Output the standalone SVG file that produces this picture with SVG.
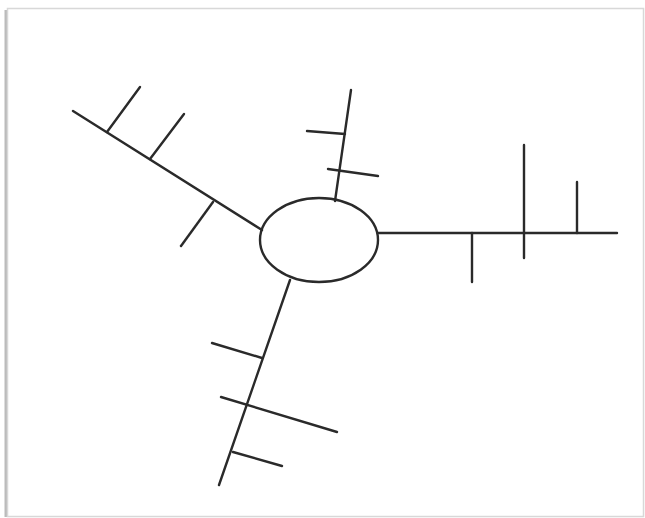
<svg xmlns="http://www.w3.org/2000/svg" width="645" height="518" viewBox="0 0 645 518">
<style>
.ln{stroke:#2a2a2a;stroke-width:2.4;fill:none;stroke-linecap:round}
.frame{fill:#fff;stroke:#d8d8d8;stroke-width:1.5}
</style>
<rect width="645" height="518" fill="#fff"/>
<line x1="6" y1="10" x2="6" y2="517" stroke="#bbb" stroke-width="3"/>
<rect class="frame" x="7.5" y="8.5" width="636" height="508"/>
<g id="connectors">
<g id="branch-left">
<line class="ln" x1="73" y1="111" x2="262" y2="230"/>
<line class="ln" x1="107" y1="132" x2="140" y2="87"/>
<line class="ln" x1="150" y1="159" x2="184" y2="114"/>
<line class="ln" x1="213" y1="202" x2="181" y2="246"/>
</g>
<g id="branch-top">
<line class="ln" x1="335" y1="201" x2="351" y2="90"/>
<line class="ln" x1="307" y1="131" x2="345" y2="134"/>
<line class="ln" x1="328" y1="169" x2="378" y2="176"/>
</g>
<g id="branch-right">
<line class="ln" x1="378" y1="233" x2="617" y2="233"/>
<line class="ln" x1="472" y1="233" x2="472" y2="282"/>
<line class="ln" x1="524" y1="145" x2="524" y2="258"/>
<line class="ln" x1="577" y1="182" x2="577" y2="233"/>
</g>
<g id="branch-bottom">
<line class="ln" x1="290" y1="280" x2="219" y2="485"/>
<line class="ln" x1="212" y1="343" x2="262" y2="358"/>
<line class="ln" x1="221" y1="397" x2="337" y2="432"/>
<line class="ln" x1="233" y1="452" x2="282" y2="466"/>
</g>
</g>
<g id="center">
<ellipse class="ln" cx="319" cy="240" rx="59" ry="42" fill="#fff"/>
</g>
</svg>
